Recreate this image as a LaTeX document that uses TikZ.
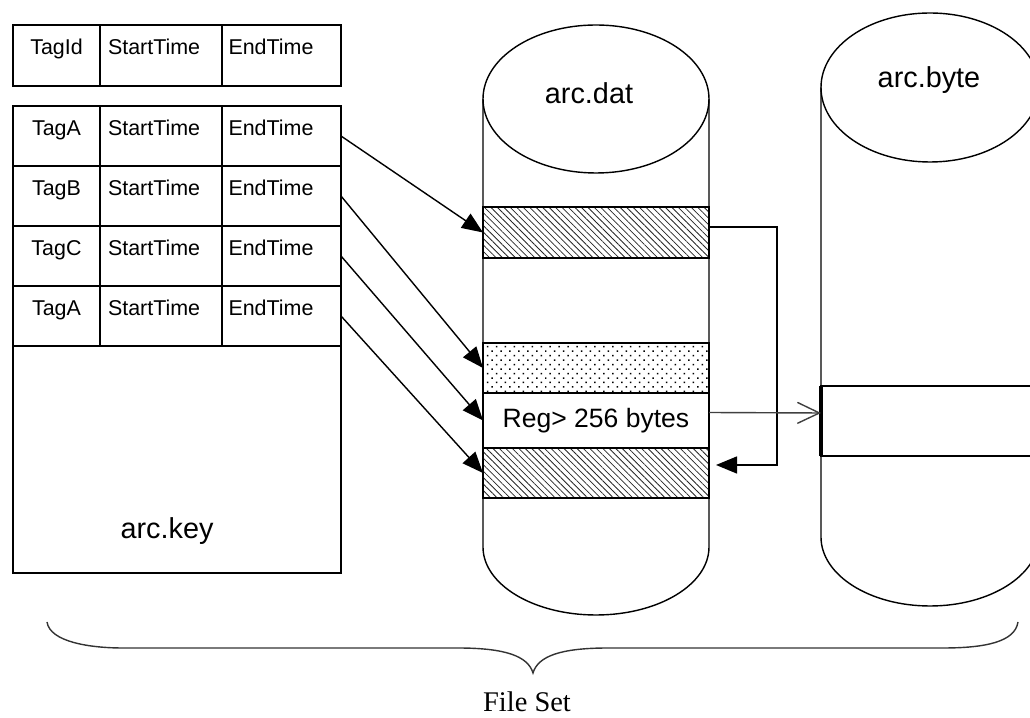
\documentclass[tikz,border=0pt]{standalone}
\usepackage{fontspec}
\setmainfont{Liberation Serif}
\setsansfont{Liberation Sans}
\usepackage{xcolor}
\usepackage{tikz}
\usetikzlibrary{arrows.meta}
\usetikzlibrary{positioning, patterns.meta}

\tikzset{
    cell/.style={draw, line width=0.9pt, outer sep=0pt, minimum height=1.2cm,
        text height=0.3cm, text depth=0.32cm, font=\sffamily\fontsize{12.2}{14}\selectfont},
    tagcell/.style={minimum width=1.74cm, inner xsep=0pt},
    timecell/.style={text width=2.12cm, inner xsep=0.16cm, align=left},
    endcell/.style={text width=2.12cm, inner xsep=0.13cm, align=left},
    band/.style={draw, line width=0.8pt, outer sep=0pt, inner sep=0pt, minimum width=4.52cm},
    hatchband/.style={band, pattern={Lines[angle=-45, distance=2.6pt, line width=0.45pt]}, pattern color=black!85},
    dotband/.style={band, pattern={Dots[angle=45, distance=3.6pt, radius=0.6pt]}, pattern color=black},
    lbl/.style={font=\sffamily\fontsize{16.4}{19}\selectfont},
    keyarrow/.style={line width=0.8pt, -{Triangle[length=0.42cm, width=0.34cm]}},
    bytearrow/.style={line width=0.8pt, draw=black!75, -{Straight Barb[length=0.44cm, width=0.42cm]}}
}

\begin{document}
\begin{tikzpicture}
                \useasboundingbox (0,0) rectangle (20.6,-14.36);
                \clip (0,0) rectangle (20.6,-14.36);

                % Header of arc.key
                \node[cell, tagcell, minimum height=1.22cm, anchor=north west] (hdrId) at (0.26,-0.5) {TagId};
                \node[cell, timecell, minimum height=1.22cm, right=0pt of hdrId] (hdrStart) {StartTime};
                \node[cell, endcell, minimum height=1.22cm, right=0pt of hdrStart] (hdrEnd) {EndTime};

                % Records of arc.key
                \node[cell, tagcell, anchor=north west] (tagA) at (0.26,-2.12) {TagA};
                \node[cell, timecell, right=0pt of tagA] (startA) {StartTime};
                \node[cell, endcell, right=0pt of startA] (endA) {EndTime};
                \node[cell, tagcell, below=0pt of tagA] (tagB) {TagB};
                \node[cell, timecell, right=0pt of tagB] (startB) {StartTime};
                \node[cell, endcell, right=0pt of startB] (endB) {EndTime};
                \node[cell, tagcell, below=0pt of tagB] (tagC) {TagC};
                \node[cell, timecell, right=0pt of tagC] (startC) {StartTime};
                \node[cell, endcell, right=0pt of startC] (endC) {EndTime};
                \node[cell, tagcell, below=0pt of tagC] (tagD) {TagA};
                \node[cell, timecell, right=0pt of tagD] (startD) {StartTime};
                \node[cell, endcell, right=0pt of startD] (endD) {EndTime};
                \node[draw, line width=0.9pt, outer sep=0pt, minimum width=6.56cm, minimum height=4.54cm, anchor=north west] (keybox) at (tagD.south west) {};
                \node[lbl] (keylbl) at ([xshift=-0.2cm, yshift=0.84cm]keybox.south) {arc.key};

                % arc.dat
                \draw[line width=0.8pt] (9.66,-1.98) -- (9.66,-10.94) arc[start angle=180, end angle=360, x radius=2.26cm, y radius=1.36cm] -- (14.18,-1.98);
                \draw[line width=0.8pt] (11.92,-1.98) ellipse[x radius=2.26cm, y radius=1.48cm];
                \node[lbl] (datlbl) at (11.78,-1.87) {arc.dat};
                \node[hatchband, minimum height=1.02cm] (hatch1) at (11.92,-4.65) {};
                \node[dotband, minimum height=1.0cm] (dots) at (11.92,-7.36) {};
                \node[band, fill=white, minimum height=1.1cm, below=0pt of dots, font=\sffamily\fontsize{15.1}{18}\selectfont] (reg) {Reg> 256 bytes};
                \node[hatchband, minimum height=1.0cm, below=0pt of reg] (hatch2) {};

                % arc.byte
                \draw[line width=0.8pt] (16.42,-1.75) -- (16.42,-10.74) arc[start angle=180, end angle=360, x radius=2.18cm, y radius=1.38cm] -- (20.78,-1.75);
                \draw[line width=0.8pt] (18.6,-1.75) ellipse[x radius=2.18cm, y radius=1.49cm];
                \node[lbl] (bytelbl) at (18.58,-1.6) {arc.byte};
                \node[band, minimum width=4.36cm, minimum height=1.4cm] (byteblk) at (18.6,-8.42) {};
                \draw[line width=1.8pt] (byteblk.north west) -- (byteblk.south west);

                % Links
                \foreach \src/\dst in {endA/hatch1, endB/dots, endC/reg, endD/hatch2}
                    \draw[keyarrow] (\src.east) -- (\dst.west);
                \draw[keyarrow] ([yshift=0.11cm]hatch1.east) -- ++(1.36,0) |- ([xshift=0.14cm, yshift=0.16cm]hatch2.east);
                \draw[bytearrow] ([yshift=0.16cm]reg.east) -- ([yshift=0.16cm]byteblk.west);

                % File Set
                \draw[line width=0.8pt, black!80] (0.94,-12.44) .. controls (1.0,-12.84) and (1.8,-12.96) .. (2.46,-12.96) -- (9.16,-12.96)
                    .. controls (10.1,-12.96) and (10.56,-13.12) .. (10.66,-13.46)
                    .. controls (10.76,-13.12) and (11.22,-12.96) .. (12.16,-12.96) -- (18.86,-12.96)
                    .. controls (19.7,-12.96) and (20.3,-12.84) .. (20.36,-12.44);
                \node[font=\rmfamily\fontsize{16.2}{19}\selectfont] (fileset) at (10.54,-14.04) {File Set};
            \end{tikzpicture}
\end{document}
